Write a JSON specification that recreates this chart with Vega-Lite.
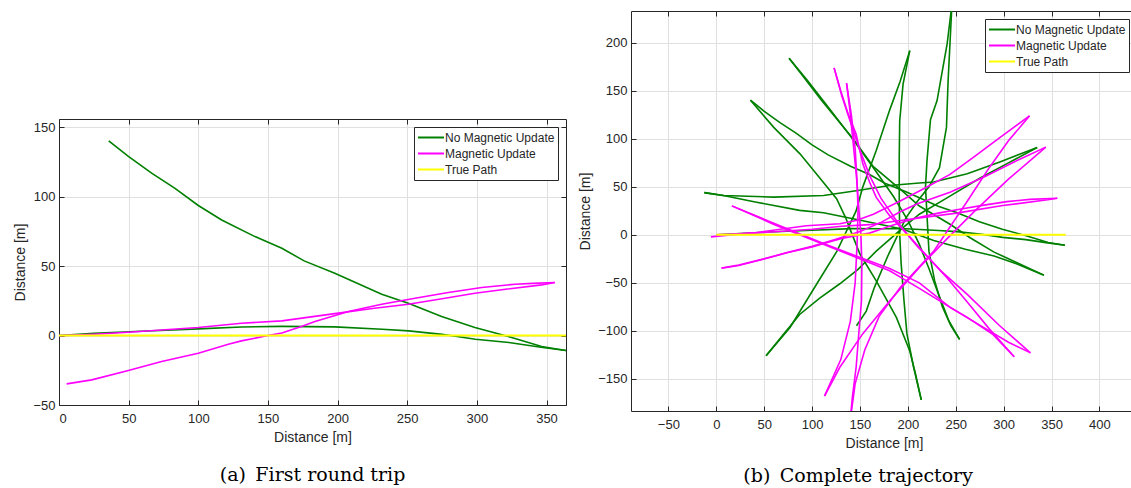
{
  "$schema": "https://vega.github.io/schema/vega-lite/v6.json",
  "padding": {"left": 13, "top": 10, "right": 0, "bottom": 0},
  "config": {
    "font": "Liberation Sans",
    "view": {"stroke": null},
    "axis": {
      "labelFont": "Liberation Sans", "labelFontSize": 13, "labelColor": "#262626",
      "titleFont": "Liberation Sans", "titleFontSize": 14, "titleFontWeight": "normal", "titleColor": "#262626",
      "domainColor": "#262626", "domainWidth": 1, "tickColor": "#262626", "tickSize": -5,
      "gridColor": "#e0e0e0", "gridWidth": 1, "labelPadding": 9, "titlePadding": 5
    },
    "axisX": {"labelPadding": 12},
    "legend": {
      "orient": "top-right", "offset": 8, "padding": 3, "strokeColor": "#262626", "fillColor": "white",
      "symbolType": "stroke", "symbolSize": 676, "symbolStrokeWidth": 2, "clipHeight": 15, "rowPadding": 1,
      "labelFont": "Liberation Sans", "labelFontSize": 12, "labelColor": "#262626", "labelOffset": 0, "labelLimit": 300
    },
    "title": {"font": "DejaVu Serif", "fontSize": 19, "fontWeight": "normal", "color": "#000000", "orient": "bottom", "anchor": "middle"}
  },
  "datasets": {
    "trip": [
      {"series":"No Magnetic Update","seg":"g1","k":0,"x":0,"y":0},
      {"series":"No Magnetic Update","seg":"g1","k":1,"x":25,"y":1.6},
      {"series":"No Magnetic Update","seg":"g1","k":2,"x":54.6,"y":2.9},
      {"series":"No Magnetic Update","seg":"g1","k":3,"x":100,"y":4.8},
      {"series":"No Magnetic Update","seg":"g1","k":4,"x":131,"y":6.2},
      {"series":"No Magnetic Update","seg":"g1","k":5,"x":160,"y":6.6},
      {"series":"No Magnetic Update","seg":"g1","k":6,"x":198,"y":6.3},
      {"series":"No Magnetic Update","seg":"g1","k":7,"x":232,"y":4.6},
      {"series":"No Magnetic Update","seg":"g1","k":8,"x":251,"y":3.4},
      {"series":"No Magnetic Update","seg":"g1","k":9,"x":275,"y":0.9},
      {"series":"No Magnetic Update","seg":"g1","k":10,"x":299,"y":-2.6},
      {"series":"No Magnetic Update","seg":"g1","k":11,"x":323,"y":-5},
      {"series":"No Magnetic Update","seg":"g1","k":12,"x":346,"y":-8.4},
      {"series":"No Magnetic Update","seg":"g1","k":13,"x":364,"y":-10.8},
      {"series":"No Magnetic Update","seg":"g2","k":0,"x":364,"y":-10.8},
      {"series":"No Magnetic Update","seg":"g2","k":1,"x":346.5,"y":-7.9},
      {"series":"No Magnetic Update","seg":"g2","k":2,"x":322.6,"y":-0.7},
      {"series":"No Magnetic Update","seg":"g2","k":3,"x":298.6,"y":5.8},
      {"series":"No Magnetic Update","seg":"g2","k":4,"x":274.7,"y":13.7},
      {"series":"No Magnetic Update","seg":"g2","k":5,"x":250.8,"y":23.3},
      {"series":"No Magnetic Update","seg":"g2","k":6,"x":231.7,"y":29.8},
      {"series":"No Magnetic Update","seg":"g2","k":7,"x":198,"y":44.9},
      {"series":"No Magnetic Update","seg":"g2","k":8,"x":176,"y":53.8},
      {"series":"No Magnetic Update","seg":"g2","k":9,"x":160,"y":62.9},
      {"series":"No Magnetic Update","seg":"g2","k":10,"x":140.7,"y":71.3},
      {"series":"No Magnetic Update","seg":"g2","k":11,"x":116.8,"y":83.3},
      {"series":"No Magnetic Update","seg":"g2","k":12,"x":100,"y":93.7},
      {"series":"No Magnetic Update","seg":"g2","k":13,"x":83.3,"y":106},
      {"series":"No Magnetic Update","seg":"g2","k":14,"x":66.5,"y":117},
      {"series":"No Magnetic Update","seg":"g2","k":15,"x":49.8,"y":129},
      {"series":"No Magnetic Update","seg":"g2","k":16,"x":35.7,"y":140.3},
      {"series":"Magnetic Update","seg":"m1","k":0,"x":0,"y":0},
      {"series":"Magnetic Update","seg":"m1","k":1,"x":25,"y":1},
      {"series":"Magnetic Update","seg":"m1","k":2,"x":49.8,"y":2.4},
      {"series":"Magnetic Update","seg":"m1","k":3,"x":100,"y":5.8},
      {"series":"Magnetic Update","seg":"m1","k":4,"x":131,"y":8.9},
      {"series":"Magnetic Update","seg":"m1","k":5,"x":160,"y":10.6},
      {"series":"Magnetic Update","seg":"m1","k":6,"x":198,"y":15.8},
      {"series":"Magnetic Update","seg":"m1","k":7,"x":225,"y":19.5},
      {"series":"Magnetic Update","seg":"m1","k":8,"x":250.8,"y":22.6},
      {"series":"Magnetic Update","seg":"m1","k":9,"x":275,"y":26.5},
      {"series":"Magnetic Update","seg":"m1","k":10,"x":298.6,"y":30.5},
      {"series":"Magnetic Update","seg":"m1","k":11,"x":322,"y":33.5},
      {"series":"Magnetic Update","seg":"m1","k":12,"x":346.5,"y":36.5},
      {"series":"Magnetic Update","seg":"m1","k":13,"x":356,"y":38.2},
      {"series":"Magnetic Update","seg":"m2","k":0,"x":356,"y":38.2},
      {"series":"Magnetic Update","seg":"m2","k":1,"x":340,"y":37.6},
      {"series":"Magnetic Update","seg":"m2","k":2,"x":327.4,"y":37},
      {"series":"Magnetic Update","seg":"m2","k":3,"x":303.5,"y":34.6},
      {"series":"Magnetic Update","seg":"m2","k":4,"x":279.5,"y":31},
      {"series":"Magnetic Update","seg":"m2","k":5,"x":255.6,"y":26.9},
      {"series":"Magnetic Update","seg":"m2","k":6,"x":231.7,"y":22.6},
      {"series":"Magnetic Update","seg":"m2","k":7,"x":207.8,"y":17.3},
      {"series":"Magnetic Update","seg":"m2","k":8,"x":183.8,"y":10.1},
      {"series":"Magnetic Update","seg":"m2","k":9,"x":174,"y":6.5},
      {"series":"Magnetic Update","seg":"m2","k":10,"x":160,"y":1.8},
      {"series":"Magnetic Update","seg":"m2","k":11,"x":150,"y":0},
      {"series":"Magnetic Update","seg":"m2","k":12,"x":131,"y":-3.8},
      {"series":"Magnetic Update","seg":"m2","k":13,"x":121.6,"y":-6.3},
      {"series":"Magnetic Update","seg":"m2","k":14,"x":100,"y":-12.7},
      {"series":"Magnetic Update","seg":"m2","k":15,"x":73.7,"y":-18.7},
      {"series":"Magnetic Update","seg":"m2","k":16,"x":49.8,"y":-25.2},
      {"series":"Magnetic Update","seg":"m2","k":17,"x":23.5,"y":-31.9},
      {"series":"Magnetic Update","seg":"m2","k":18,"x":5.5,"y":-34.8},
      {"series":"True Path","seg":"t","k":0,"x":0,"y":0},
      {"series":"True Path","seg":"t","k":1,"x":364,"y":0}
    ],
    "full": [
      {"series":"No Magnetic Update","seg":"G1","k":0,"x":0,"y":0},
      {"series":"No Magnetic Update","seg":"G1","k":1,"x":55,"y":2.9},
      {"series":"No Magnetic Update","seg":"G1","k":2,"x":100,"y":4.8},
      {"series":"No Magnetic Update","seg":"G1","k":3,"x":141,"y":6.5},
      {"series":"No Magnetic Update","seg":"G1","k":4,"x":174,"y":6.3},
      {"series":"No Magnetic Update","seg":"G1","k":5,"x":198,"y":6.3},
      {"series":"No Magnetic Update","seg":"G1","k":6,"x":232,"y":4.6},
      {"series":"No Magnetic Update","seg":"G1","k":7,"x":251,"y":3.4},
      {"series":"No Magnetic Update","seg":"G1","k":8,"x":275,"y":0.9},
      {"series":"No Magnetic Update","seg":"G1","k":9,"x":299,"y":-2.6},
      {"series":"No Magnetic Update","seg":"G1","k":10,"x":323,"y":-5},
      {"series":"No Magnetic Update","seg":"G1","k":11,"x":346,"y":-8.4},
      {"series":"No Magnetic Update","seg":"G1","k":12,"x":364,"y":-10.8},
      {"series":"No Magnetic Update","seg":"G2","k":0,"x":364,"y":-10.8},
      {"series":"No Magnetic Update","seg":"G2","k":1,"x":346.5,"y":-7.9},
      {"series":"No Magnetic Update","seg":"G2","k":2,"x":322.6,"y":-0.7},
      {"series":"No Magnetic Update","seg":"G2","k":3,"x":298.6,"y":5.8},
      {"series":"No Magnetic Update","seg":"G2","k":4,"x":274.7,"y":13.7},
      {"series":"No Magnetic Update","seg":"G2","k":5,"x":250.8,"y":23.3},
      {"series":"No Magnetic Update","seg":"G2","k":6,"x":231.7,"y":29.8},
      {"series":"No Magnetic Update","seg":"G2","k":7,"x":198,"y":44.9},
      {"series":"No Magnetic Update","seg":"G2","k":8,"x":176,"y":53.8},
      {"series":"No Magnetic Update","seg":"G2","k":9,"x":160,"y":62.9},
      {"series":"No Magnetic Update","seg":"G2","k":10,"x":140.7,"y":71.3},
      {"series":"No Magnetic Update","seg":"G2","k":11,"x":116.8,"y":83.3},
      {"series":"No Magnetic Update","seg":"G2","k":12,"x":100,"y":93.7},
      {"series":"No Magnetic Update","seg":"G2","k":13,"x":83.3,"y":106},
      {"series":"No Magnetic Update","seg":"G2","k":14,"x":66.5,"y":117},
      {"series":"No Magnetic Update","seg":"G2","k":15,"x":49.8,"y":129},
      {"series":"No Magnetic Update","seg":"G2","k":16,"x":35.7,"y":140.3},
      {"series":"No Magnetic Update","seg":"G3","k":0,"x":35.7,"y":140.3},
      {"series":"No Magnetic Update","seg":"G3","k":1,"x":60,"y":112},
      {"series":"No Magnetic Update","seg":"G3","k":2,"x":87.4,"y":84.4},
      {"series":"No Magnetic Update","seg":"G3","k":3,"x":110,"y":57},
      {"series":"No Magnetic Update","seg":"G3","k":4,"x":125.6,"y":37.6},
      {"series":"No Magnetic Update","seg":"G3","k":5,"x":135,"y":18},
      {"series":"No Magnetic Update","seg":"G3","k":6,"x":142,"y":0},
      {"series":"No Magnetic Update","seg":"G3","k":7,"x":150,"y":-20},
      {"series":"No Magnetic Update","seg":"G3","k":8,"x":167,"y":-48},
      {"series":"No Magnetic Update","seg":"G3","k":9,"x":188,"y":-86},
      {"series":"No Magnetic Update","seg":"G3","k":10,"x":202,"y":-121},
      {"series":"No Magnetic Update","seg":"G3","k":11,"x":208,"y":-145},
      {"series":"No Magnetic Update","seg":"G3","k":12,"x":214,"y":-172},
      {"series":"No Magnetic Update","seg":"G4","k":0,"x":214,"y":-172},
      {"series":"No Magnetic Update","seg":"G4","k":1,"x":206,"y":-138},
      {"series":"No Magnetic Update","seg":"G4","k":2,"x":199,"y":-103},
      {"series":"No Magnetic Update","seg":"G4","k":3,"x":196,"y":-69},
      {"series":"No Magnetic Update","seg":"G4","k":4,"x":193,"y":-30},
      {"series":"No Magnetic Update","seg":"G4","k":5,"x":191.5,"y":0},
      {"series":"No Magnetic Update","seg":"G4","k":6,"x":191,"y":40},
      {"series":"No Magnetic Update","seg":"G4","k":7,"x":191,"y":80},
      {"series":"No Magnetic Update","seg":"G4","k":8,"x":191.5,"y":119},
      {"series":"No Magnetic Update","seg":"G4","k":9,"x":195,"y":157},
      {"series":"No Magnetic Update","seg":"G4","k":10,"x":202,"y":192},
      {"series":"No Magnetic Update","seg":"G5","k":0,"x":202,"y":192},
      {"series":"No Magnetic Update","seg":"G5","k":1,"x":192,"y":160},
      {"series":"No Magnetic Update","seg":"G5","k":2,"x":181,"y":130},
      {"series":"No Magnetic Update","seg":"G5","k":3,"x":167,"y":88},
      {"series":"No Magnetic Update","seg":"G5","k":4,"x":153,"y":50},
      {"series":"No Magnetic Update","seg":"G5","k":5,"x":146,"y":25},
      {"series":"No Magnetic Update","seg":"G5","k":6,"x":136,"y":4},
      {"series":"No Magnetic Update","seg":"G5","k":7,"x":126,"y":-17},
      {"series":"No Magnetic Update","seg":"G5","k":8,"x":105,"y":-51},
      {"series":"No Magnetic Update","seg":"G5","k":9,"x":77,"y":-96.5},
      {"series":"No Magnetic Update","seg":"G5","k":10,"x":52,"y":-126},
      {"series":"No Magnetic Update","seg":"G6","k":0,"x":52,"y":-126},
      {"series":"No Magnetic Update","seg":"G6","k":1,"x":70,"y":-104},
      {"series":"No Magnetic Update","seg":"G6","k":2,"x":87,"y":-83},
      {"series":"No Magnetic Update","seg":"G6","k":3,"x":108,"y":-66},
      {"series":"No Magnetic Update","seg":"G6","k":4,"x":129,"y":-51},
      {"series":"No Magnetic Update","seg":"G6","k":5,"x":148,"y":-36},
      {"series":"No Magnetic Update","seg":"G6","k":6,"x":167,"y":-17},
      {"series":"No Magnetic Update","seg":"G6","k":7,"x":195,"y":7.6},
      {"series":"No Magnetic Update","seg":"G6","k":8,"x":212,"y":21.5},
      {"series":"No Magnetic Update","seg":"G6","k":9,"x":240,"y":38},
      {"series":"No Magnetic Update","seg":"G6","k":10,"x":275,"y":59},
      {"series":"No Magnetic Update","seg":"G6","k":11,"x":305,"y":75},
      {"series":"No Magnetic Update","seg":"G6","k":12,"x":335,"y":91},
      {"series":"No Magnetic Update","seg":"G7","k":0,"x":335,"y":91},
      {"series":"No Magnetic Update","seg":"G7","k":1,"x":296,"y":76},
      {"series":"No Magnetic Update","seg":"G7","k":2,"x":262,"y":63.6},
      {"series":"No Magnetic Update","seg":"G7","k":3,"x":227,"y":55},
      {"series":"No Magnetic Update","seg":"G7","k":4,"x":212,"y":54},
      {"series":"No Magnetic Update","seg":"G7","k":5,"x":181,"y":51.5},
      {"series":"No Magnetic Update","seg":"G7","k":6,"x":146,"y":46},
      {"series":"No Magnetic Update","seg":"G7","k":7,"x":112,"y":41},
      {"series":"No Magnetic Update","seg":"G7","k":8,"x":60,"y":39.3},
      {"series":"No Magnetic Update","seg":"G7","k":9,"x":8,"y":41},
      {"series":"No Magnetic Update","seg":"G7","k":10,"x":-12.5,"y":44},
      {"series":"No Magnetic Update","seg":"G8","k":0,"x":-12.5,"y":44},
      {"series":"No Magnetic Update","seg":"G8","k":1,"x":10,"y":40.5},
      {"series":"No Magnetic Update","seg":"G8","k":2,"x":42,"y":34},
      {"series":"No Magnetic Update","seg":"G8","k":3,"x":87,"y":25.5},
      {"series":"No Magnetic Update","seg":"G8","k":4,"x":112,"y":23},
      {"series":"No Magnetic Update","seg":"G8","k":5,"x":153,"y":14.6},
      {"series":"No Magnetic Update","seg":"G8","k":6,"x":195,"y":5.9},
      {"series":"No Magnetic Update","seg":"G8","k":7,"x":227,"y":-6},
      {"series":"No Magnetic Update","seg":"G8","k":8,"x":260,"y":-15},
      {"series":"No Magnetic Update","seg":"G8","k":9,"x":290,"y":-22},
      {"series":"No Magnetic Update","seg":"G8","k":10,"x":314,"y":-30.5},
      {"series":"No Magnetic Update","seg":"G8","k":11,"x":342,"y":-42},
      {"series":"No Magnetic Update","seg":"G9","k":0,"x":342,"y":-42},
      {"series":"No Magnetic Update","seg":"G9","k":1,"x":314,"y":-29},
      {"series":"No Magnetic Update","seg":"G9","k":2,"x":290,"y":-18},
      {"series":"No Magnetic Update","seg":"G9","k":3,"x":265,"y":-3},
      {"series":"No Magnetic Update","seg":"G9","k":4,"x":244,"y":11},
      {"series":"No Magnetic Update","seg":"G9","k":5,"x":212,"y":30},
      {"series":"No Magnetic Update","seg":"G9","k":6,"x":195,"y":45},
      {"series":"No Magnetic Update","seg":"G9","k":7,"x":164,"y":71},
      {"series":"No Magnetic Update","seg":"G9","k":8,"x":143,"y":100},
      {"series":"No Magnetic Update","seg":"G9","k":9,"x":110,"y":140},
      {"series":"No Magnetic Update","seg":"G9","k":10,"x":90,"y":166},
      {"series":"No Magnetic Update","seg":"G9","k":11,"x":76,"y":184},
      {"series":"No Magnetic Update","seg":"G10","k":0,"x":76,"y":184},
      {"series":"No Magnetic Update","seg":"G10","k":1,"x":95,"y":161},
      {"series":"No Magnetic Update","seg":"G10","k":2,"x":120,"y":129},
      {"series":"No Magnetic Update","seg":"G10","k":3,"x":143,"y":99},
      {"series":"No Magnetic Update","seg":"G10","k":4,"x":164,"y":70},
      {"series":"No Magnetic Update","seg":"G10","k":5,"x":185,"y":40},
      {"series":"No Magnetic Update","seg":"G10","k":6,"x":200,"y":15},
      {"series":"No Magnetic Update","seg":"G10","k":7,"x":212,"y":-10},
      {"series":"No Magnetic Update","seg":"G10","k":8,"x":222,"y":-35},
      {"series":"No Magnetic Update","seg":"G10","k":9,"x":232,"y":-62},
      {"series":"No Magnetic Update","seg":"G10","k":10,"x":243,"y":-90},
      {"series":"No Magnetic Update","seg":"G10","k":11,"x":254,"y":-109},
      {"series":"No Magnetic Update","seg":"G11","k":0,"x":254,"y":-109},
      {"series":"No Magnetic Update","seg":"G11","k":1,"x":245,"y":-95},
      {"series":"No Magnetic Update","seg":"G11","k":2,"x":236,"y":-75},
      {"series":"No Magnetic Update","seg":"G11","k":3,"x":228,"y":-48},
      {"series":"No Magnetic Update","seg":"G11","k":4,"x":222,"y":-17},
      {"series":"No Magnetic Update","seg":"G11","k":5,"x":220,"y":20},
      {"series":"No Magnetic Update","seg":"G11","k":6,"x":218.4,"y":49.8},
      {"series":"No Magnetic Update","seg":"G11","k":7,"x":220,"y":77.5},
      {"series":"No Magnetic Update","seg":"G11","k":8,"x":223.6,"y":120},
      {"series":"No Magnetic Update","seg":"G11","k":9,"x":230.5,"y":140},
      {"series":"No Magnetic Update","seg":"G11","k":10,"x":241,"y":199},
      {"series":"No Magnetic Update","seg":"G11","k":11,"x":246,"y":240},
      {"series":"No Magnetic Update","seg":"G12","k":0,"x":246,"y":240},
      {"series":"No Magnetic Update","seg":"G12","k":1,"x":244,"y":200},
      {"series":"No Magnetic Update","seg":"G12","k":2,"x":242,"y":160},
      {"series":"No Magnetic Update","seg":"G12","k":3,"x":240.3,"y":112},
      {"series":"No Magnetic Update","seg":"G12","k":4,"x":233,"y":70},
      {"series":"No Magnetic Update","seg":"G12","k":5,"x":222,"y":50},
      {"series":"No Magnetic Update","seg":"G12","k":6,"x":210,"y":35},
      {"series":"No Magnetic Update","seg":"G12","k":7,"x":198,"y":17.7},
      {"series":"No Magnetic Update","seg":"G12","k":8,"x":180,"y":-20},
      {"series":"No Magnetic Update","seg":"G12","k":9,"x":165,"y":-55},
      {"series":"No Magnetic Update","seg":"G12","k":10,"x":156.6,"y":-79.5},
      {"series":"No Magnetic Update","seg":"G12","k":11,"x":146.4,"y":-94.7},
      {"series":"Magnetic Update","seg":"M1","k":0,"x":0,"y":0},
      {"series":"Magnetic Update","seg":"M1","k":1,"x":50,"y":2.4},
      {"series":"Magnetic Update","seg":"M1","k":2,"x":100,"y":5.8},
      {"series":"Magnetic Update","seg":"M1","k":3,"x":131,"y":8.9},
      {"series":"Magnetic Update","seg":"M1","k":4,"x":160,"y":10.6},
      {"series":"Magnetic Update","seg":"M1","k":5,"x":198,"y":15.8},
      {"series":"Magnetic Update","seg":"M1","k":6,"x":251,"y":22.6},
      {"series":"Magnetic Update","seg":"M1","k":7,"x":299,"y":30.5},
      {"series":"Magnetic Update","seg":"M1","k":8,"x":346,"y":36.5},
      {"series":"Magnetic Update","seg":"M1","k":9,"x":356,"y":38.2},
      {"series":"Magnetic Update","seg":"M2","k":0,"x":356,"y":38.2},
      {"series":"Magnetic Update","seg":"M2","k":1,"x":327.4,"y":37},
      {"series":"Magnetic Update","seg":"M2","k":2,"x":303.5,"y":34.6},
      {"series":"Magnetic Update","seg":"M2","k":3,"x":279.5,"y":31},
      {"series":"Magnetic Update","seg":"M2","k":4,"x":255.6,"y":26.9},
      {"series":"Magnetic Update","seg":"M2","k":5,"x":231.7,"y":22.6},
      {"series":"Magnetic Update","seg":"M2","k":6,"x":207.8,"y":17.3},
      {"series":"Magnetic Update","seg":"M2","k":7,"x":184,"y":10.1},
      {"series":"Magnetic Update","seg":"M2","k":8,"x":174,"y":6.5},
      {"series":"Magnetic Update","seg":"M2","k":9,"x":160,"y":1.8},
      {"series":"Magnetic Update","seg":"M2","k":10,"x":150,"y":0},
      {"series":"Magnetic Update","seg":"M2","k":11,"x":131,"y":-3.8},
      {"series":"Magnetic Update","seg":"M2","k":12,"x":121.6,"y":-6.3},
      {"series":"Magnetic Update","seg":"M2","k":13,"x":100,"y":-12.7},
      {"series":"Magnetic Update","seg":"M2","k":14,"x":73.7,"y":-18.7},
      {"series":"Magnetic Update","seg":"M2","k":15,"x":49.8,"y":-25.2},
      {"series":"Magnetic Update","seg":"M2","k":16,"x":23.5,"y":-31.9},
      {"series":"Magnetic Update","seg":"M2","k":17,"x":5.5,"y":-34.8},
      {"series":"Magnetic Update","seg":"M3","k":0,"x":5.5,"y":-34.5},
      {"series":"Magnetic Update","seg":"M3","k":1,"x":23.5,"y":-31.5},
      {"series":"Magnetic Update","seg":"M3","k":2,"x":50,"y":-25},
      {"series":"Magnetic Update","seg":"M3","k":3,"x":74,"y":-18.5},
      {"series":"Magnetic Update","seg":"M3","k":4,"x":100,"y":-12},
      {"series":"Magnetic Update","seg":"M3","k":5,"x":125,"y":-4.5},
      {"series":"Magnetic Update","seg":"M3","k":6,"x":150,"y":3.5},
      {"series":"Magnetic Update","seg":"M3","k":7,"x":172,"y":13},
      {"series":"Magnetic Update","seg":"M3","k":8,"x":192,"y":24},
      {"series":"Magnetic Update","seg":"M3","k":9,"x":210,"y":32.4},
      {"series":"Magnetic Update","seg":"M3","k":10,"x":244,"y":44.5},
      {"series":"Magnetic Update","seg":"M3","k":11,"x":279,"y":60},
      {"series":"Magnetic Update","seg":"M3","k":12,"x":314,"y":77.5},
      {"series":"Magnetic Update","seg":"M3","k":13,"x":344,"y":91.4},
      {"series":"Magnetic Update","seg":"M4","k":0,"x":-5.6,"y":-2.1},
      {"series":"Magnetic Update","seg":"M4","k":1,"x":20,"y":0.5},
      {"series":"Magnetic Update","seg":"M4","k":2,"x":42,"y":2.4},
      {"series":"Magnetic Update","seg":"M4","k":3,"x":94,"y":9.4},
      {"series":"Magnetic Update","seg":"M4","k":4,"x":129,"y":11.5},
      {"series":"Magnetic Update","seg":"M4","k":5,"x":146,"y":15},
      {"series":"Magnetic Update","seg":"M4","k":6,"x":164,"y":21.5},
      {"series":"Magnetic Update","seg":"M4","k":7,"x":191.5,"y":35},
      {"series":"Magnetic Update","seg":"M4","k":8,"x":219,"y":49.3},
      {"series":"Magnetic Update","seg":"M4","k":9,"x":244,"y":63},
      {"series":"Magnetic Update","seg":"M4","k":10,"x":268,"y":80.5},
      {"series":"Magnetic Update","seg":"M4","k":11,"x":296,"y":101.4},
      {"series":"Magnetic Update","seg":"M4","k":12,"x":327,"y":124},
      {"series":"Magnetic Update","seg":"M5","k":0,"x":113,"y":-168},
      {"series":"Magnetic Update","seg":"M5","k":1,"x":129,"y":-138},
      {"series":"Magnetic Update","seg":"M5","k":2,"x":153,"y":-103},
      {"series":"Magnetic Update","seg":"M5","k":3,"x":181,"y":-69},
      {"series":"Magnetic Update","seg":"M5","k":4,"x":212,"y":-34},
      {"series":"Magnetic Update","seg":"M5","k":5,"x":240,"y":-5},
      {"series":"Magnetic Update","seg":"M5","k":6,"x":270,"y":25},
      {"series":"Magnetic Update","seg":"M5","k":7,"x":305,"y":58},
      {"series":"Magnetic Update","seg":"M5","k":8,"x":344,"y":91.4},
      {"series":"Magnetic Update","seg":"M6","k":0,"x":140,"y":-192},
      {"series":"Magnetic Update","seg":"M6","k":1,"x":142,"y":-170},
      {"series":"Magnetic Update","seg":"M6","k":2,"x":146,"y":-138},
      {"series":"Magnetic Update","seg":"M6","k":3,"x":149,"y":-100},
      {"series":"Magnetic Update","seg":"M6","k":4,"x":151.6,"y":-69},
      {"series":"Magnetic Update","seg":"M6","k":5,"x":152,"y":-30},
      {"series":"Magnetic Update","seg":"M6","k":6,"x":151,"y":0},
      {"series":"Magnetic Update","seg":"M6","k":7,"x":149,"y":25.5},
      {"series":"Magnetic Update","seg":"M6","k":8,"x":146.4,"y":60},
      {"series":"Magnetic Update","seg":"M6","k":9,"x":143,"y":95},
      {"series":"Magnetic Update","seg":"M6","k":10,"x":139.5,"y":130},
      {"series":"Magnetic Update","seg":"M6","k":11,"x":136,"y":158},
      {"series":"Magnetic Update","seg":"M7","k":0,"x":136,"y":158},
      {"series":"Magnetic Update","seg":"M7","k":1,"x":141,"y":125},
      {"series":"Magnetic Update","seg":"M7","k":2,"x":145,"y":90},
      {"series":"Magnetic Update","seg":"M7","k":3,"x":147,"y":55},
      {"series":"Magnetic Update","seg":"M7","k":4,"x":148,"y":25},
      {"series":"Magnetic Update","seg":"M7","k":5,"x":147,"y":-10},
      {"series":"Magnetic Update","seg":"M7","k":6,"x":145,"y":-50},
      {"series":"Magnetic Update","seg":"M7","k":7,"x":140,"y":-90},
      {"series":"Magnetic Update","seg":"M7","k":8,"x":130,"y":-130},
      {"series":"Magnetic Update","seg":"M7","k":9,"x":113,"y":-168},
      {"series":"Magnetic Update","seg":"M8","k":0,"x":123,"y":174},
      {"series":"Magnetic Update","seg":"M8","k":1,"x":130,"y":150},
      {"series":"Magnetic Update","seg":"M8","k":2,"x":138,"y":125},
      {"series":"Magnetic Update","seg":"M8","k":3,"x":146,"y":105},
      {"series":"Magnetic Update","seg":"M8","k":4,"x":153,"y":74},
      {"series":"Magnetic Update","seg":"M8","k":5,"x":160,"y":55},
      {"series":"Magnetic Update","seg":"M8","k":6,"x":167,"y":39},
      {"series":"Magnetic Update","seg":"M8","k":7,"x":181,"y":20},
      {"series":"Magnetic Update","seg":"M8","k":8,"x":200,"y":0},
      {"series":"Magnetic Update","seg":"M8","k":9,"x":220,"y":-22},
      {"series":"Magnetic Update","seg":"M8","k":10,"x":241,"y":-45},
      {"series":"Magnetic Update","seg":"M8","k":11,"x":262,"y":-70},
      {"series":"Magnetic Update","seg":"M8","k":12,"x":285,"y":-98},
      {"series":"Magnetic Update","seg":"M8","k":13,"x":311,"y":-127},
      {"series":"Magnetic Update","seg":"M9","k":0,"x":123,"y":174},
      {"series":"Magnetic Update","seg":"M9","k":1,"x":131,"y":145},
      {"series":"Magnetic Update","seg":"M9","k":2,"x":140,"y":118},
      {"series":"Magnetic Update","seg":"M9","k":3,"x":150,"y":88},
      {"series":"Magnetic Update","seg":"M9","k":4,"x":160,"y":62},
      {"series":"Magnetic Update","seg":"M9","k":5,"x":172,"y":38},
      {"series":"Magnetic Update","seg":"M9","k":6,"x":190,"y":12},
      {"series":"Magnetic Update","seg":"M9","k":7,"x":210,"y":-12},
      {"series":"Magnetic Update","seg":"M9","k":8,"x":235,"y":-38},
      {"series":"Magnetic Update","seg":"M9","k":9,"x":262,"y":-62},
      {"series":"Magnetic Update","seg":"M9","k":10,"x":295,"y":-94},
      {"series":"Magnetic Update","seg":"M9","k":11,"x":328,"y":-123},
      {"series":"Magnetic Update","seg":"M10","k":0,"x":16.3,"y":30.2},
      {"series":"Magnetic Update","seg":"M10","k":1,"x":40,"y":20},
      {"series":"Magnetic Update","seg":"M10","k":2,"x":59.7,"y":11.1},
      {"series":"Magnetic Update","seg":"M10","k":3,"x":85,"y":1},
      {"series":"Magnetic Update","seg":"M10","k":4,"x":111.7,"y":-9.7},
      {"series":"Magnetic Update","seg":"M10","k":5,"x":146.4,"y":-23.6},
      {"series":"Magnetic Update","seg":"M10","k":6,"x":181,"y":-37.5},
      {"series":"Magnetic Update","seg":"M10","k":7,"x":212.4,"y":-56},
      {"series":"Magnetic Update","seg":"M10","k":8,"x":240,"y":-73},
      {"series":"Magnetic Update","seg":"M10","k":9,"x":262,"y":-86},
      {"series":"Magnetic Update","seg":"M10","k":10,"x":289,"y":-104},
      {"series":"Magnetic Update","seg":"M10","k":11,"x":311,"y":-127},
      {"series":"Magnetic Update","seg":"M11","k":0,"x":140,"y":-192},
      {"series":"Magnetic Update","seg":"M11","k":1,"x":145,"y":-155},
      {"series":"Magnetic Update","seg":"M11","k":2,"x":155,"y":-120},
      {"series":"Magnetic Update","seg":"M11","k":3,"x":170,"y":-85},
      {"series":"Magnetic Update","seg":"M11","k":4,"x":192,"y":-55},
      {"series":"Magnetic Update","seg":"M11","k":5,"x":227,"y":-17},
      {"series":"Magnetic Update","seg":"M11","k":6,"x":262,"y":35},
      {"series":"Magnetic Update","seg":"M11","k":7,"x":285,"y":70},
      {"series":"Magnetic Update","seg":"M11","k":8,"x":305,"y":98},
      {"series":"Magnetic Update","seg":"M11","k":9,"x":327,"y":124},
      {"series":"Magnetic Update","seg":"M12","k":0,"x":16.3,"y":30.2},
      {"series":"Magnetic Update","seg":"M12","k":1,"x":40,"y":20.5},
      {"series":"Magnetic Update","seg":"M12","k":2,"x":60,"y":12},
      {"series":"Magnetic Update","seg":"M12","k":3,"x":85,"y":2},
      {"series":"Magnetic Update","seg":"M12","k":4,"x":112,"y":-9},
      {"series":"Magnetic Update","seg":"M12","k":5,"x":146,"y":-22},
      {"series":"Magnetic Update","seg":"M12","k":6,"x":181,"y":-35},
      {"series":"Magnetic Update","seg":"M12","k":7,"x":212,"y":-50},
      {"series":"Magnetic Update","seg":"M12","k":8,"x":244,"y":-75.6},
      {"series":"Magnetic Update","seg":"M12","k":9,"x":279,"y":-96.5},
      {"series":"Magnetic Update","seg":"M12","k":10,"x":305,"y":-112},
      {"series":"Magnetic Update","seg":"M12","k":11,"x":328,"y":-123},
      {"series":"True Path","seg":"T","k":0,"x":0,"y":0},
      {"series":"True Path","seg":"T","k":1,"x":364.8,"y":0}
    ]
  },
  "resolve": {"scale": {"color": "independent"}, "legend": {"color": "independent"}},
  "spacing": 11,
  "hconcat": [
    {
      "spacing": 0,
      "resolve": {"scale": {"color": "independent"}, "legend": {"color": "independent"}},
      "vconcat": [
        {
          "width": 507, "height": 107,
          "data": {"values": [{"a": 0}]},
          "mark": {"type": "text", "text": ""},
          "encoding": {}
        },
        {
          "width": 507, "height": 286,
          "data": {"name": "trip"},
          "title": {"text": "(a)\u2002First round trip", "frame": "group", "offset": 22},
          "resolve": {"axis": {"x": "independent", "y": "independent"}},
          "layer": [
            {
              "transform": [{"filter": "datum.series != 'True Path'"}],
              "mark": {"type": "line", "strokeWidth": 1.6, "clip": true},
              "encoding": {
                "x": {"field": "x", "type": "quantitative", "scale": {"domain": [0, 364], "nice": false, "zero": false},
                      "axis": {"title": "Distance [m]", "values": [0, 50, 100, 150, 200, 250, 300, 350], "grid": true}},
                "y": {"field": "y", "type": "quantitative", "scale": {"domain": [-50, 156], "nice": false, "zero": false},
                      "axis": {"title": "Distance [m]", "values": [-50, 0, 50, 100, 150], "grid": true}},
                "color": {"field": "series", "type": "nominal",
                          "scale": {"domain": ["No Magnetic Update", "Magnetic Update", "True Path"], "range": ["#008000", "#ff00ff", "#ffff00"]},
                          "legend": {"title": null}},
                "detail": {"field": "seg"},
                "order": {"field": "k", "type": "quantitative"}
              }
            },
            {
              "transform": [{"filter": "datum.series == 'True Path'"}],
              "mark": {"type": "line", "strokeWidth": 2, "clip": true},
              "encoding": {
                "x": {"field": "x", "type": "quantitative", "scale": {"domain": [0, 364], "nice": false, "zero": false},
                      "axis": {"orient": "top", "labels": false, "title": null, "grid": false, "values": [0, 50, 100, 150, 200, 250, 300, 350]}},
                "y": {"field": "y", "type": "quantitative", "scale": {"domain": [-50, 156], "nice": false, "zero": false},
                      "axis": {"orient": "right", "labels": false, "title": null, "grid": false, "values": [-50, 0, 50, 100, 150]}},
                "color": {"field": "series", "type": "nominal",
                          "scale": {"domain": ["No Magnetic Update", "Magnetic Update", "True Path"], "range": ["#008000", "#ff00ff", "#ffff00"]},
                          "legend": {"title": null}},
                "detail": {"field": "seg"},
                "order": {"field": "k", "type": "quantitative"}
              }
            }
          ]
        }
      ]
    },
    {
      "width": 506, "height": 400,
      "data": {"name": "full"},
      "title": {"text": "(b)\u2002Complete trajectory", "frame": "bounds", "offset": 17},
      "resolve": {"axis": {"x": "independent", "y": "independent"}},
      "layer": [
        {
          "transform": [{"filter": "datum.series != 'True Path'"}],
          "mark": {"type": "line", "strokeWidth": 1.6, "clip": true},
          "encoding": {
            "x": {"field": "x", "type": "quantitative", "scale": {"domain": [-89, 439.2], "nice": false, "zero": false},
                  "axis": {"title": "Distance [m]", "values": [-50, 0, 50, 100, 150, 200, 250, 300, 350, 400], "grid": true}},
            "y": {"field": "y", "type": "quantitative", "scale": {"domain": [-183.6, 233.3], "nice": false, "zero": false},
                  "axis": {"title": "Distance [m]", "values": [-150, -100, -50, 0, 50, 100, 150, 200], "grid": true}},
            "color": {"field": "series", "type": "nominal",
                      "scale": {"domain": ["No Magnetic Update", "Magnetic Update", "True Path"], "range": ["#008000", "#ff00ff", "#ffff00"]},
                      "legend": {"title": null}},
            "detail": {"field": "seg"},
            "order": {"field": "k", "type": "quantitative"}
          }
        },
        {
          "transform": [{"filter": "datum.series == 'True Path'"}],
          "mark": {"type": "line", "strokeWidth": 2, "clip": true},
          "encoding": {
            "x": {"field": "x", "type": "quantitative", "scale": {"domain": [-89, 439.2], "nice": false, "zero": false},
                  "axis": {"orient": "top", "labels": false, "title": null, "grid": false, "values": [-50, 0, 50, 100, 150, 200, 250, 300, 350, 400]}},
            "y": {"field": "y", "type": "quantitative", "scale": {"domain": [-183.6, 233.3], "nice": false, "zero": false},
                  "axis": {"orient": "right", "labels": false, "title": null, "grid": false, "values": [-150, -100, -50, 0, 50, 100, 150, 200]}},
            "color": {"field": "series", "type": "nominal",
                      "scale": {"domain": ["No Magnetic Update", "Magnetic Update", "True Path"], "range": ["#008000", "#ff00ff", "#ffff00"]},
                      "legend": {"title": null}},
            "detail": {"field": "seg"},
            "order": {"field": "k", "type": "quantitative"}
          }
        }
      ]
    }
  ]
}
